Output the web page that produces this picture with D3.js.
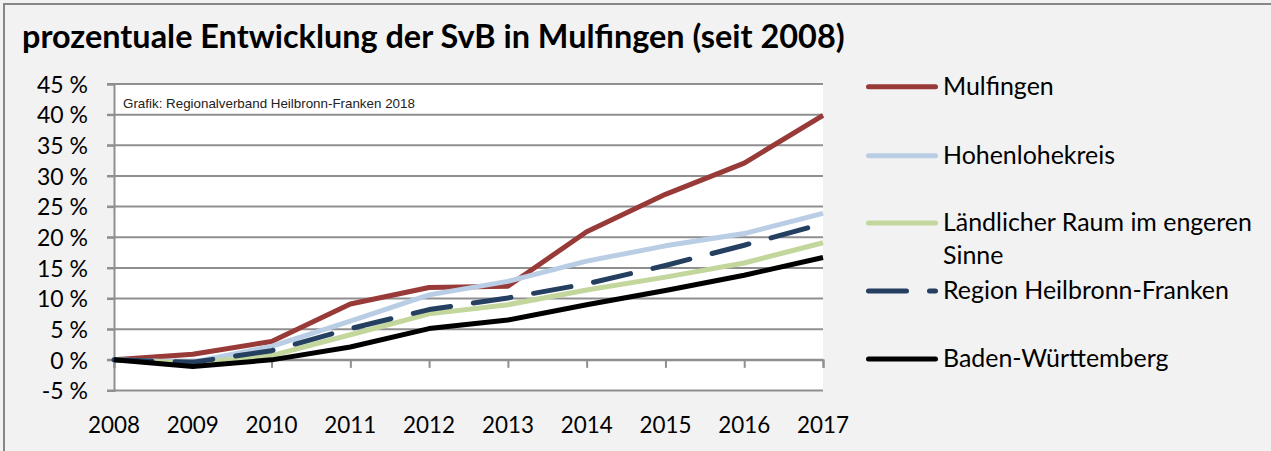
<!DOCTYPE html>
<html>
<head>
<meta charset="utf-8">
<script src="https://cdn.jsdelivr.net/npm/d3@7"></script>
<style>
  html, body { margin: 0; padding: 0; background: #f2f2f2; }
  svg { display: block; }
</style>
</head>
<body>
<svg id="chart" width="1271" height="451"></svg>
<script>
const years = ["2008", "2009", "2010", "2011", "2012", "2013", "2014", "2015", "2016", "2017"];
const yTicks = [-5, 0, 5, 10, 15, 20, 25, 30, 35, 40, 45];

const mulfingen      = [0, 0.9, 3.0, 9.1, 11.8, 12.0, 20.9, 27.0, 32.1, 39.9];
const hohenlohekreis = [0, -0.4, 2.2, 6.3, 10.6, 12.8, 16.1, 18.6, 20.6, 23.9];
const laendlicher    = [0, -0.6, 0.7, 4.1, 7.5, 9.0, 11.4, 13.5, 15.8, 19.1];
const regionHNF      = [0, -0.4, 1.5, 5.1, 8.2, 10.1, 12.4, 15.4, 18.7, 22.2];
const badenWue       = [0, -1.1, 0.0, 2.1, 5.1, 6.5, 9.0, 11.3, 13.8, 16.7];

const seriesNames = ["Mulfingen", "Hohenlohekreis", "Ländlicher Raum im engeren Sinne", "Region Heilbronn-Franken", "Baden-Württemberg"];

const title = "prozentuale Entwicklung der SvB in Mulfingen (seit 2008)";
const sourceNote = "Grafik: Regionalverband Heilbronn-Franken 2018";

const font = "Lato, 'Open Sans', sans-serif";

const series = [
  { name: seriesNames[0], values: mulfingen, color: "#983a37", dash: null },
  { name: seriesNames[1], values: hohenlohekreis, color: "#b9cde5", dash: null },
  { name: seriesNames[2], values: laendlicher, color: "#c3d69b", dash: null },
  { name: seriesNames[3], values: regionHNF, color: "#243f60", dash: "38,23" },
  { name: seriesNames[4], values: badenWue, color: "#000000", dash: null }
];

const svg = d3.select("#chart");

// font-size that makes a given string the target width
function fitSize(str, target, base, weight) {
  const probe = svg.append("text")
    .attr("font-family", font)
    .attr("font-weight", weight || "normal")
    .attr("font-size", base)
    .text(str);
  const w = probe.node().getComputedTextLength();
  probe.remove();
  return w > 0 ? +(base * target / w).toFixed(2) : base;
}

// outer frame (only top/left visible)
svg.append("rect")
  .attr("x", 4).attr("y", 4)
  .attr("width", 1300).attr("height", 500)
  .attr("fill", "#f2f2f2")
  .attr("stroke", "#878787")
  .attr("stroke-width", 2);

svg.append("text")
  .attr("x", 22).attr("y", 48)
  .attr("font-family", font)
  .attr("font-weight", "bold")
  .attr("font-size", fitSize(title, 823, 28, "bold"))
  .attr("fill", "#000")
  .text(title);

const tickSize = fitSize("2008", 52, 20);
const ySize = fitSize("45 %", 51, 20);
const legendSize = fitSize("Ländlicher Raum im engeren", 309, 20);

const x = d3.scalePoint().domain(years).range([114, 823]);
const y = d3.scaleLinear().domain([-5, 45]).range([390.5, 84]);

// plot area
svg.append("rect")
  .attr("x", 114).attr("y", 84)
  .attr("width", 823 - 114).attr("height", 390.5 - 84)
  .attr("fill", "#ffffff");

// grid lines
svg.append("g")
  .selectAll("line")
  .data(yTicks)
  .enter()
  .append("line")
  .attr("x1", 107)
  .attr("x2", 823)
  .attr("y1", d => y(d))
  .attr("y2", d => y(d))
  .attr("stroke", "#8f8f8f")
  .attr("stroke-width", 2);

// y axis
const yAxis = svg.append("g")
  .attr("transform", "translate(114,0)")
  .call(d3.axisLeft(y).tickValues(yTicks).tickSize(7).tickPadding(19).tickFormat(d => `${d} %`));
yAxis.select(".domain").attr("stroke", "#8f8f8f").attr("stroke-width", 2);
yAxis.selectAll(".tick line").attr("stroke", "#8f8f8f").attr("stroke-width", 2);
yAxis.selectAll(".tick text")
  .attr("font-family", font)
  .attr("font-size", ySize)
  .attr("fill", "#000")
  .attr("dy", "0.36em");

// x axis crossing at 0 %
const xAxis = svg.append("g")
  .attr("transform", `translate(0,${y(0)})`)
  .call(d3.axisBottom(x).tickSize(8).tickFormat(""));
xAxis.select(".domain").attr("stroke", "#8f8f8f").attr("stroke-width", 2);
xAxis.selectAll(".tick line").attr("stroke", "#8f8f8f").attr("stroke-width", 2);

svg.append("g")
  .selectAll("text")
  .data(years)
  .enter()
  .append("text")
  .attr("x", d => x(d))
  .attr("y", 432.5)
  .attr("text-anchor", "middle")
  .attr("font-family", font)
  .attr("font-size", tickSize)
  .attr("fill", "#000")
  .text(d => d);

// source note
const note = svg.append("text")
  .attr("x", 123).attr("y", 108)
  .attr("font-family", "'Liberation Sans', Arial, sans-serif")
  .attr("font-size", 11)
  .attr("fill", "#222")
  .text(sourceNote);
const nw = note.node().getComputedTextLength();
if (nw > 0) note.attr("font-size", (11 * 292 / nw).toFixed(2));

// lines
const line = d3.line()
  .x((d, i) => x(years[i]))
  .y(d => y(d));

svg.append("g")
  .selectAll("path")
  .data(series)
  .enter()
  .append("path")
  .attr("d", d => line(d.values))
  .attr("fill", "none")
  .attr("stroke", d => d.color)
  .attr("stroke-width", 5)
  .attr("stroke-linejoin", "round")
  .attr("stroke-linecap", d => d.dash ? "round" : "butt")
  .attr("stroke-dasharray", d => d.dash);

// legend
const legendY = [86.7, 155.7, 223, 291, 359];
const legend = svg.append("g");
series.forEach((s, i) => {
  legend.append("line")
    .attr("x1", 868.5).attr("x2", 935.5)
    .attr("y1", legendY[i]).attr("y2", legendY[i])
    .attr("stroke", s.color)
    .attr("stroke-width", 5)
    .attr("stroke-linecap", "round")
    .attr("stroke-dasharray", s.dash);
  const txt = legend.append("text")
    .attr("x", 943)
    .attr("y", legendY[i] + 8.3)
    .attr("font-family", font)
    .attr("font-size", legendSize)
    .attr("fill", "#000");
  if (i === 2) {
    txt.append("tspan").attr("x", 943).text("Ländlicher Raum im engeren");
    txt.append("tspan").attr("x", 943).attr("dy", 32.5).text("Sinne");
  } else {
    txt.text(s.name);
  }
});
</script>
</body>
</html>
